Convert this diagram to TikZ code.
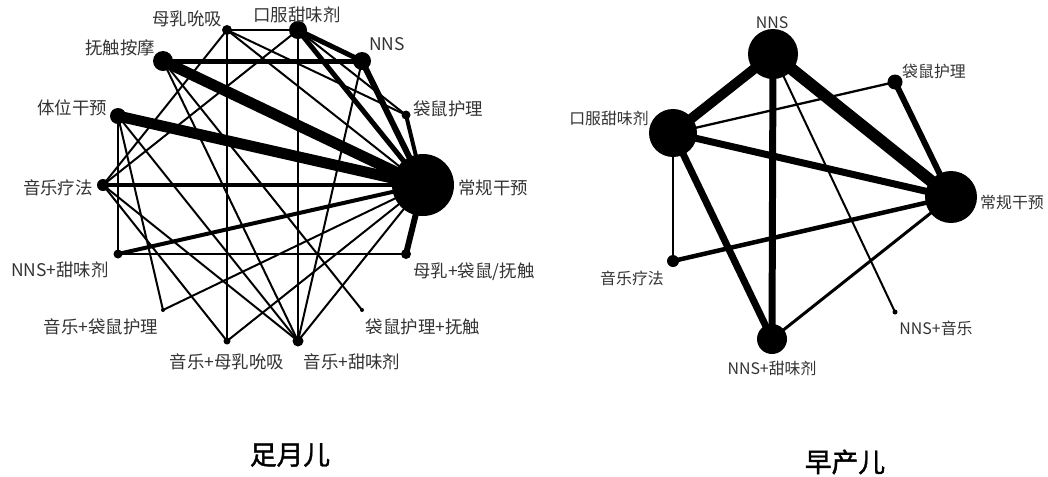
\documentclass[tikz,border=0pt]{standalone}
\usepackage{fontspec}
\newfontfamily\cjk{Noto Sans CJK SC}
\newfontfamily\cjkbold[FakeBold=1.5]{Noto Sans CJK SC}
\usetikzlibrary{backgrounds}
\begin{document}
\begin{tikzpicture}[x=0.25mm, y=-0.25mm,
  dot/.style={circle, fill=black, inner sep=0pt, minimum size=#1*0.25mm},
  lw/.style={line width=#1*0.71pt},
  lblA/.style={text=black!80, font=\cjk\fontsize{12.4}{14}\selectfont, inner sep=0pt},
  lblB/.style={text=black!80, font=\cjk\fontsize{11.3}{13}\selectfont, inner sep=0pt},
  ttl/.style={font=\cjkbold\fontsize{19}{22}\selectfont, inner sep=0pt}]
\useasboundingbox (0,0) rectangle (1048,476);
% term infants
\node[dot=10] (tBF) at (227,30) {};
\node[dot=18] (tOS) at (298,30) {};
\node[dot=18] (tNNS) at (362,61) {};
\node[dot=9] (tKC) at (406,115) {};
\node[dot=62] (tRC) at (423,185) {};
\node[dot=10] (tBKT) at (406,254) {};
\node[dot=4] (tKT) at (362,310) {};
\node[dot=11] (tMS) at (298,341) {};
\node[dot=7] (tMB) at (227,341) {};
\node[dot=4] (tMK) at (163,310) {};
\node[dot=9] (tNS) at (118,254) {};
\node[dot=12] (tMT) at (103,185) {};
\node[dot=16] (tPI) at (118,116) {};
\node[dot=20] (tTM) at (163,61) {};
\node[lblA] (lBF) at (187,19) {母乳吮吸};
\node[lblA] (lOS) at (297,15) {口服甜味剂};
\node[lblA] (lNNS) at (387,44) {NNS};
\node[lblA] (lKC) at (448,109) {袋鼠护理};
\node[lblA] (lRC) at (493,188) {常规干预};
\node[lblA] (lBKT) at (474,272) {母乳+袋鼠/抚触};
\node[lblA] (lKT) at (423,327) {袋鼠护理+抚触};
\node[lblA] (lMS) at (352,362) {音乐+甜味剂};
\node[lblA] (lMB) at (227,362) {音乐+母乳吮吸};
\node[lblA] (lMK) at (101,327) {音乐+袋鼠护理};
\node[lblA] (lNS) at (60,270) {NNS+甜味剂};
\node[lblA] (lMT) at (58,188) {音乐疗法};
\node[lblA] (lPI) at (72,108) {体位干预};
\node[lblA] (lTM) at (120,48) {抚触按摩};
\node[ttl] (tTitle) at (290,455) {足月儿};
\begin{pgfonlayer}{background}
\draw[lw=11] (tTM.center) -- (tRC.center);
\draw[lw=11] (tPI.center) -- (tRC.center);
\draw[lw=6] (tNNS.center) -- (tRC.center);
\draw[lw=5] (tOS.center) -- (tRC.center);
\draw[lw=5] (tOS.center) -- (tNNS.center);
\draw[lw=5] (tTM.center) -- (tNNS.center);
\draw[lw=6] (tBKT.center) -- (tRC.center);
\draw[lw=4] (tKC.center) -- (tRC.center);
\draw[lw=3.5] (tMT.center) -- (tRC.center);
\draw[lw=4] (tNS.center) -- (tRC.center);
\draw[lw=2] (tBF.center) -- (tOS.center);
\draw[lw=2] (tBF.center) -- (tMB.center);
\draw[lw=2] (tBF.center) -- (tMT.center);
\draw[lw=2] (tBF.center) -- (tKC.center);
\draw[lw=2] (tBF.center) -- (tRC.center);
\draw[lw=2] (tOS.center) -- (tMS.center);
\draw[lw=2] (tOS.center) -- (tMT.center);
\draw[lw=2] (tOS.center) -- (tKC.center);
\draw[lw=2] (tNNS.center) -- (tMS.center);
\draw[lw=2] (tTM.center) -- (tKT.center);
\draw[lw=2] (tTM.center) -- (tMS.center);
\draw[lw=2] (tPI.center) -- (tNS.center);
\draw[lw=2] (tPI.center) -- (tMK.center);
\draw[lw=2] (tPI.center) -- (tMS.center);
\draw[lw=2] (tMT.center) -- (tMB.center);
\draw[lw=2] (tMT.center) -- (tMS.center);
\draw[lw=2] (tNS.center) -- (tBKT.center);
\draw[lw=2] (tMK.center) -- (tRC.center);
\draw[lw=2] (tMB.center) -- (tRC.center);
\draw[lw=2] (tMS.center) -- (tRC.center);
\end{pgfonlayer}
% preterm infants
\node[dot=50] (pNNS) at (773,54) {};
\node[dot=15] (pKC) at (895,82) {};
\node[dot=48] (pOS) at (673,133) {};
\node[dot=52] (pRC) at (951,197) {};
\node[dot=12] (pMT) at (673,261) {};
\node[dot=30] (pNS) at (772,339) {};
\node[dot=5] (pNM) at (895,312) {};
\node[lblB] (mNNS) at (772,23) {NNS};
\node[lblB] (mKC) at (934,71) {袋鼠护理};
\node[lblB] (mOS) at (609,118) {口服甜味剂};
\node[lblB] (mRC) at (1012,202) {常规干预};
\node[lblB] (mMT) at (632,278) {音乐疗法};
\node[lblB] (mNS) at (772,368) {NNS+甜味剂};
\node[lblB] (mNM) at (936,328) {NNS+音乐};
\node[ttl] (pTitle) at (845,462) {早产儿};
\begin{pgfonlayer}{background}
\draw[lw=12] (pNNS.center) -- (pRC.center);
\draw[lw=10] (pNNS.center) -- (pOS.center);
\draw[lw=7] (pNNS.center) -- (pNS.center);
\draw[lw=7] (pOS.center) -- (pRC.center);
\draw[lw=7] (pOS.center) -- (pNS.center);
\draw[lw=6] (pKC.center) -- (pRC.center);
\draw[lw=4.5] (pMT.center) -- (pRC.center);
\draw[lw=3] (pNS.center) -- (pRC.center);
\draw[lw=2.3] (pOS.center) -- (pKC.center);
\draw[lw=2] (pOS.center) -- (pMT.center);
\draw[lw=2] (pNNS.center) -- (pNM.center);
\end{pgfonlayer}
\end{tikzpicture}
\end{document}
